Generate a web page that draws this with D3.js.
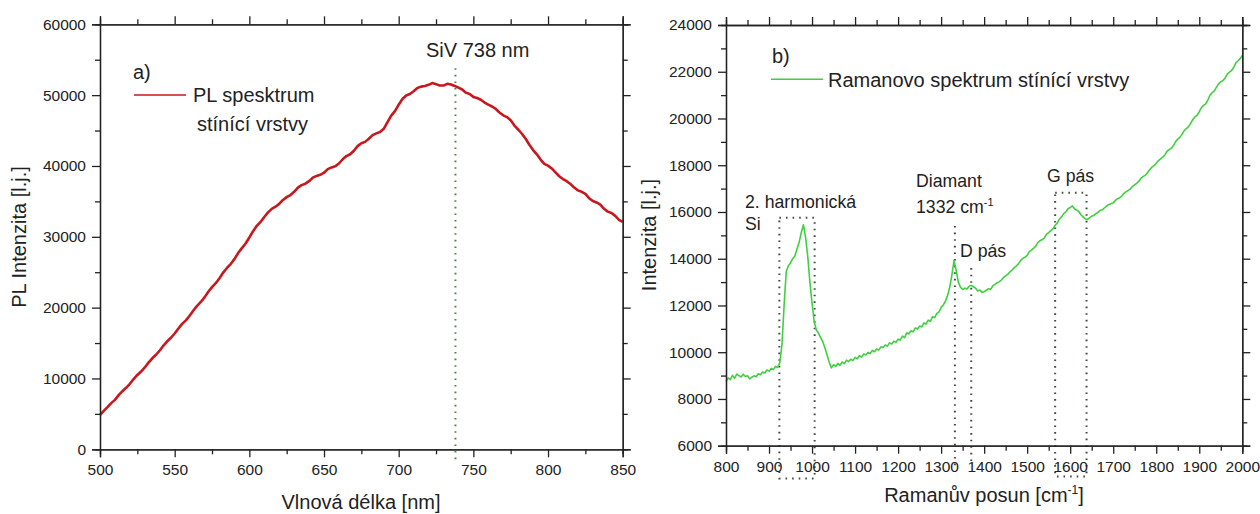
<!DOCTYPE html>
<html>
<head>
<meta charset="utf-8">
<script src="https://cdn.jsdelivr.net/npm/d3@7"></script>
<style>
  html, body { margin: 0; padding: 0; background: #fff; }
  svg { display: block; font-family: "Liberation Sans", Arial, sans-serif; }
  .axis path, .axis line { stroke: #222; stroke-width: 1.3; }
  .lbl { fill: #222; }
</style>
</head>
<body>
<svg id="chart" width="1260" height="514"></svg>
<script>
// ---- Panel a): PL spectrum, sampled every 2.5 nm from 500 to 850 nm ----
const plWavelength = d3.range(500, 850.01, 2.5);
const plIntensity = [
  4840,5420,5950,6520,6980,7650,8200,8680,9250,9900,10500,10980,11550,12250,12850,13350,13950,14650,15250,15750,
  16350,17050,17700,18200,18850,19600,20250,20800,21450,22250,22900,23450,24150,24950,25600,26150,26850,27700,28400,29050,
  29900,30800,31550,32100,32800,33450,33950,34250,34650,35200,35600,35900,36350,36950,37300,37500,37850,38350,38600,38750,
  39050,39550,39800,39950,40350,40950,41400,41650,42150,42800,43200,43400,43850,44350,44600,44800,45250,46200,47100,47750,
  48650,49450,49950,50150,50550,51000,51200,51300,51450,51700,51550,51350,51350,51600,51500,51300,51050,50800,50350,50150,
  49750,49600,49350,48950,48650,48400,48050,47550,47150,46900,46450,45700,45150,44550,43850,43000,42250,41650,40900,40300,
  40050,39650,39100,38550,38150,37850,37450,36950,36550,36350,36050,35450,35050,34850,34550,33950,33550,33350,32950,32400,
  32100];
const plXTicks = [500,550,600,650,700,750,800,850];
const plYTicks = [0,10000,20000,30000,40000,50000,60000];
const sivLine = 738;

// ---- Panel b): Raman spectrum, sampled every 5 cm-1 from 800 to 2000 cm-1 ----
const ramanShift = d3.range(800, 2000.01, 5);
const ramanIntensity = [
  8740,8900,8830,9010,8880,9060,9000,8940,9060,8960,8990,8860,8930,8990,8950,9080,9040,9150,9110,9240,
  9190,9300,9260,9390,9350,9540,10300,12000,13450,13700,13820,14000,14120,14420,14700,15120,15450,14900,14100,13000,
  12100,11300,10950,10820,10620,10450,10180,9880,9560,9330,9470,9390,9520,9440,9580,9510,9660,9600,9700,9640,
  9780,9720,9850,9790,9920,9880,9990,9940,10080,10020,10140,10090,10230,10200,10310,10260,10400,10350,10470,10420,
  10560,10520,10690,10620,10830,10780,10920,10870,11040,10990,11120,11080,11250,11200,11370,11320,11520,11480,11660,11720,
  11920,12020,12190,12420,12780,13300,13920,13500,13000,12780,12680,12740,12700,12820,12860,12800,12740,12620,12660,12560,
  12590,12650,12720,12680,12840,12900,12970,13010,13090,13200,13270,13330,13440,13520,13620,13690,13790,13930,14020,14060,
  14140,14300,14370,14450,14540,14700,14770,14820,14890,15050,15120,15200,15290,15430,15520,15700,15790,15930,16010,16140,
  16190,16260,16140,16080,16020,15880,15790,15700,15680,15750,15820,15860,15930,15990,16070,16100,16180,16260,16320,16350,
  16390,16500,16570,16610,16680,16800,16870,16920,16990,17100,17170,17230,17330,17450,17520,17580,17690,17820,17920,17980,
  18080,18200,18270,18350,18440,18590,18670,18730,18840,19010,19120,19190,19330,19480,19570,19650,19790,19960,20070,20140,
  20290,20470,20560,20630,20790,21000,21110,21180,21340,21480,21570,21620,21730,21900,21980,22050,22180,22380,22470,22560,
  22700];
const ramanXTicks = [800,900,1000,1100,1200,1300,1400,1500,1600,1700,1800,1900,2000];
const ramanYTicks = [6000,8000,10000,12000,14000,16000,18000,20000,22000,24000];
// marked bands: [from, to, bottom, top]
const siBox = [924, 1006, 4600, 15750];
const gBox = [1565, 1638, 4680, 16820];
// marked lines: [position, bottom, top]
const diamondLine = [1332, 5150, 15400];
const dBandLine = [1370, 5150, 13600];

const svg = d3.select("#chart");
const dotStyle = sel => sel.attr("fill", "none").attr("stroke", "#3f4b3f")
  .attr("stroke-width", 2).attr("stroke-dasharray", "1.6,5").attr("stroke-linecap", "butt");

function styleTicks(axisG) {
  axisG.selectAll("text")
    .attr("fill", "#222")
    .attr("font-size", 15.5)
    .attr("font-family", "'Liberation Sans', Arial, sans-serif");
}

function framedAxes(g, x, y, xMajor, xMinor, yMajor, yMinor) {
  const [x0, x1] = x.range();
  const [y0, y1] = y.range(); // y0 = bottom, y1 = top
  const fmt = d3.format("d");
  const major = 8, minor = 5;
  // minor ticks
  g.append("g").attr("class", "axis").attr("transform", `translate(0,${y0})`)
    .call(d3.axisBottom(x).tickValues(xMinor).tickSize(minor).tickFormat(""));
  g.append("g").attr("class", "axis").attr("transform", `translate(0,${y1})`)
    .call(d3.axisTop(x).tickValues(xMinor).tickSize(minor).tickFormat(""));
  g.append("g").attr("class", "axis").attr("transform", `translate(${x0},0)`)
    .call(d3.axisLeft(y).tickValues(yMinor).tickSize(minor).tickFormat(""));
  g.append("g").attr("class", "axis").attr("transform", `translate(${x1},0)`)
    .call(d3.axisRight(y).tickValues(yMinor).tickSize(minor).tickFormat(""));
  // major ticks
  g.append("g").attr("class", "axis").attr("transform", `translate(0,${y0})`)
    .call(d3.axisBottom(x).tickValues(xMajor).tickSize(major).tickPadding(7).tickFormat(fmt))
    .call(styleTicks);
  g.append("g").attr("class", "axis").attr("transform", `translate(0,${y1})`)
    .call(d3.axisTop(x).tickValues(xMajor).tickSize(major).tickFormat(""));
  g.append("g").attr("class", "axis").attr("transform", `translate(${x0},0)`)
    .call(d3.axisLeft(y).tickValues(yMajor).tickSize(major).tickPadding(6).tickFormat(fmt))
    .call(styleTicks);
  g.append("g").attr("class", "axis").attr("transform", `translate(${x1},0)`)
    .call(d3.axisRight(y).tickValues(yMajor).tickSize(major).tickFormat(""));
}

function minorBetween(ticks) {
  const out = [];
  for (let i = 0; i < ticks.length - 1; i++) out.push((ticks[i] + ticks[i + 1]) / 2);
  return out;
}

// ===== Panel a) =====
{
  const x = d3.scaleLinear().domain([500, 850]).range([100, 622.7]);
  const y = d3.scaleLinear().domain([0, 60000]).range([449.3, 24.3]);
  const g = svg.append("g");

  // SiV marker
  g.append("line")
    .attr("x1", x(sivLine)).attr("x2", x(sivLine))
    .attr("y1", y(53800)).attr("y2", y(-1800))
    .call(dotStyle).attr("stroke", "#5b7a5b");

  const line = d3.line().x((d, i) => x(plWavelength[i])).y(d => y(d));
  g.append("path").datum(plIntensity).attr("d", line)
    .attr("fill", "none").attr("stroke", "#c8171d").attr("stroke-width", 2.6)
    .attr("stroke-linejoin", "round");

  framedAxes(g, x, y, plXTicks, minorBetween(plXTicks), plYTicks, minorBetween(plYTicks));

  g.append("text").attr("class", "lbl").attr("x", 361).attr("y", 509)
    .attr("text-anchor", "middle").attr("font-size", 20).text("Vlnová délka [nm]");
  g.append("text").attr("class", "lbl").attr("transform", "translate(26,237) rotate(-90)")
    .attr("text-anchor", "middle").attr("font-size", 20).text("PL Intenzita [l.j.]");

  g.append("text").attr("class", "lbl").attr("x", 133).attr("y", 79).attr("font-size", 20).text("a)");
  g.append("line").attr("x1", 134).attr("x2", 186).attr("y1", 95).attr("y2", 95)
    .attr("stroke", "#c8171d").attr("stroke-width", 1.6);
  g.append("text").attr("class", "lbl").attr("x", 193).attr("y", 102).attr("font-size", 20).text("PL spesktrum");
  g.append("text").attr("class", "lbl").attr("x", 197).attr("y", 131).attr("font-size", 20).text("stínící vrstvy");
  g.append("text").attr("class", "lbl").attr("x", 426).attr("y", 57).attr("font-size", 20).text("SiV 738 nm");
}

// ===== Panel b) =====
{
  const x = d3.scaleLinear().domain([800, 2000]).range([726, 1242.3]);
  const y = d3.scaleLinear().domain([6000, 24000]).range([445.7, 25]);
  const g = svg.append("g");

  // band markers
  for (const b of [siBox, gBox]) {
    g.append("rect").attr("x", x(b[0])).attr("y", y(b[3]))
      .attr("width", x(b[1]) - x(b[0])).attr("height", y(b[2]) - y(b[3]))
      .call(dotStyle);
  }
  for (const l of [diamondLine, dBandLine]) {
    g.append("line").attr("x1", x(l[0])).attr("x2", x(l[0]))
      .attr("y1", y(l[2])).attr("y2", y(l[1])).call(dotStyle);
  }

  const line = d3.line().x((d, i) => x(ramanShift[i])).y(d => y(d));
  g.append("path").datum(ramanIntensity).attr("d", line)
    .attr("fill", "none").attr("stroke", "#3fd03f").attr("stroke-width", 1.6)
    .attr("stroke-linejoin", "round");

  framedAxes(g, x, y, ramanXTicks, minorBetween(ramanXTicks), ramanYTicks, minorBetween(ramanYTicks));

  const xt = g.append("text").attr("class", "lbl").attr("x", 984).attr("y", 502)
    .attr("text-anchor", "middle").attr("font-size", 20);
  xt.append("tspan").text("Ramanův posun [cm");
  xt.append("tspan").attr("dy", -8).attr("font-size", 12).text("-1");
  xt.append("tspan").attr("dy", 8).text("]");
  g.append("text").attr("class", "lbl").attr("transform", "translate(656,235) rotate(-90)")
    .attr("text-anchor", "middle").attr("font-size", 20).text("Intenzita [l.j.]");

  g.append("text").attr("class", "lbl").attr("x", 772).attr("y", 63).attr("font-size", 20).text("b)");
  g.append("line").attr("x1", 771).attr("x2", 823).attr("y1", 79.3).attr("y2", 79.3)
    .attr("stroke", "#3fd03f").attr("stroke-width", 1.6);
  g.append("text").attr("class", "lbl").attr("x", 828).attr("y", 87).attr("font-size", 20)
    .text("Ramanovo spektrum stínící vrstvy");

  const ann = 17.7;
  g.append("text").attr("class", "lbl").attr("x", 745).attr("y", 208).attr("font-size", ann).text("2. harmonická");
  g.append("text").attr("class", "lbl").attr("x", 745).attr("y", 230).attr("font-size", ann).text("Si");
  g.append("text").attr("class", "lbl").attr("x", 916).attr("y", 187).attr("font-size", ann).text("Diamant");
  const dt = g.append("text").attr("class", "lbl").attr("x", 916).attr("y", 213).attr("font-size", ann);
  dt.append("tspan").text("1332 cm");
  dt.append("tspan").attr("dy", -7).attr("font-size", 11).text("-1");
  g.append("text").attr("class", "lbl").attr("x", 960).attr("y", 257).attr("font-size", ann).text("D pás");
  g.append("text").attr("class", "lbl").attr("x", 1047).attr("y", 182).attr("font-size", ann).text("G pás");
}
</script>
</body>
</html>
